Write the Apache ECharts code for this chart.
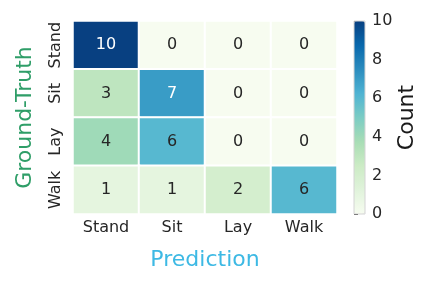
<!DOCTYPE html>
<html>
<head>
<meta charset="utf-8">
<script src="https://cdn.jsdelivr.net/npm/echarts@6/dist/echarts.min.js"></script>
<style>html,body{margin:0;padding:0;background:#fff;}#c{width:432px;height:288px;}</style>
</head>
<body>
<div id="c"></div>
<script>
const predCats = ['Stand', 'Sit', 'Lay', 'Walk'];
const truthCats = ['Stand', 'Sit', 'Lay', 'Walk'];
const rowStand = [10, 0, 0, 0];
const rowSit = [3, 7, 0, 0];
const rowLay = [4, 6, 0, 0];
const rowWalk = [1, 1, 2, 6];
const colorbarTicks = [0, 2, 4, 6, 8, 10];
const gnbu = ['#f7fcf0', '#e0f3db', '#ccebc5', '#a8ddb5', '#7bccc4', '#4eb3d3', '#2b8cbe', '#0868ac', '#084081'];

const rows = [rowStand, rowSit, rowLay, rowWalk];
const data = [];
rows.forEach((row, yi) => {
  row.forEach((v, xi) => {
    data.push({
      value: [xi, yi, v],
      label: { color: v >= 7 ? '#ffffff' : '#262626' }
    });
  });
});

const font = 'DejaVu Sans';
const chart = echarts.init(document.getElementById('c'), null, { renderer: 'canvas' });
chart.setOption({
  animation: false,
  textStyle: { fontFamily: font },
  grid: [
    { left: 73, top: 21, width: 264, height: 193 },
    { left: 354, top: 21, width: 11, height: 193, show: true, backgroundColor: 'transparent', borderColor: '#d4d4d4', borderWidth: 1, z: 10 }
  ],
  xAxis: [
    {
      gridIndex: 0, type: 'category', data: predCats, position: 'bottom',
      axisLine: { show: false }, axisTick: { show: false }, splitArea: { show: false },
      axisLabel: { fontSize: 16, color: '#262626', margin: 6, fontFamily: font, interval: 0, hideOverlap: false },
      name: 'Prediction', nameLocation: 'middle', nameGap: 35,
      nameTextStyle: { fontSize: 22, color: '#3db9e4', fontFamily: font }
    },
    { gridIndex: 1, type: 'value', show: false, min: 0, max: 1 }
  ],
  yAxis: [
    {
      gridIndex: 0, type: 'category', data: truthCats, inverse: true,
      axisLine: { show: false }, axisTick: { show: false }, splitArea: { show: false },
      axisLabel: { fontSize: 16, color: '#262626', margin: 9, rotate: 90, fontFamily: font, interval: 0, hideOverlap: false },
      name: 'Ground-Truth', nameLocation: 'middle', nameGap: 37,
      nameTextStyle: { fontSize: 22, color: '#2f9e68', fontFamily: font }
    },
    {
      gridIndex: 1, type: 'value', position: 'right', min: 0, max: 10, interval: 2,
      axisLine: { show: false }, splitLine: { show: false },
      axisTick: { show: true, length: 4, lineStyle: { color: '#262626', width: 1 } },
      axisLabel: {
        fontSize: 16, color: '#262626', margin: 7, fontFamily: font,
        formatter: v => colorbarTicks.includes(v) ? String(v) : ''
      },
      name: 'Count', nameLocation: 'middle', nameGap: 27,
      nameTextStyle: { fontSize: 22, color: '#1a1a1a', fontFamily: font }
    }
  ],
  visualMap: {
    type: 'continuous', min: 0, max: 10, seriesIndex: 0,
    left: 354, top: 21, itemWidth: 11, itemHeight: 193, padding: 0,
    calculable: false, hoverLink: false, text: null, showLabel: false,
    inRange: { color: gnbu }
  },
  series: [{
    type: 'heatmap', xAxisIndex: 0, yAxisIndex: 0, data: data,
    itemStyle: { borderColor: '#ffffff', borderWidth: 2 },
    label: { show: true, fontSize: 16, fontFamily: font, formatter: p => String(p.value[2]) },
    emphasis: { disabled: true }
  }]
});
</script>
</body>
</html>
